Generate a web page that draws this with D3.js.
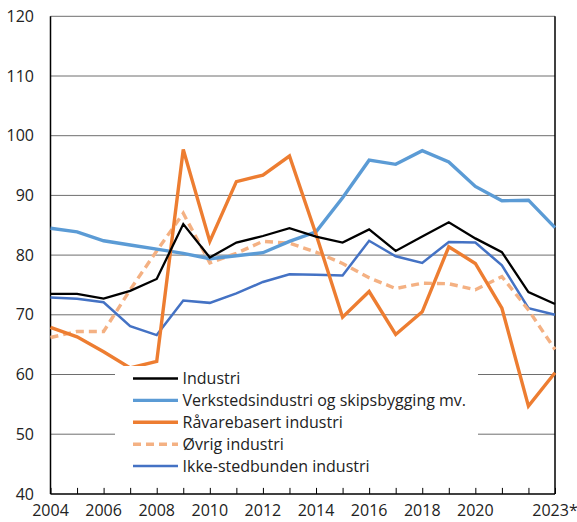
<!DOCTYPE html>
<html lang="no">
<head>
<meta charset="UTF-8">
<title>Industri</title>
<script src="https://d3js.org/d3.v7.min.js"></script>
<style>
  body { margin: 0; background: #fff; }
  svg { display: block; font-family: "Open Sans", sans-serif; }
</style>
</head>
<body>
<script>
// years and series values
const years = d3.range(2004, 2024);
const industri   = [73.5, 73.5, 72.7, 74.0, 76.0, 85.2, 79.6, 82.1, 83.2, 84.5, 83.1, 82.1, 84.3, 80.7, 83.1, 85.5, 82.8, 80.5, 73.8, 71.8];
const verksted   = [84.5, 83.9, 82.4, 81.7, 81.0, 80.3, 79.4, 79.9, 80.4, 82.3, 83.9, 89.6, 95.9, 95.2, 97.5, 95.6, 91.5, 89.1, 89.2, 84.6];
const raavare    = [67.9, 66.3, 63.8, 61.1, 62.2, 97.7, 82.3, 92.3, 93.4, 96.6, 83.5, 69.6, 73.9, 66.7, 70.5, 81.4, 78.6, 71.1, 54.7, 60.3];
const ovrig      = [66.2, 67.2, 67.2, 74.2, 80.7, 87.0, 78.7, 80.3, 82.3, 82.0, 80.5, 78.6, 76.2, 74.4, 75.3, 75.2, 74.2, 76.4, 70.8, 64.2];
const ikke       = [72.9, 72.7, 72.1, 68.1, 66.6, 72.4, 72.0, 73.6, 75.5, 76.8, 76.7, 76.6, 82.4, 79.8, 78.7, 82.2, 82.1, 78.3, 71.1, 70.0];

const seriesNames = ["Industri", "Verkstedsindustri og skipsbygging mv.", "Råvarebasert industri", "Øvrig industri", "Ikke-stedbunden industri"];
const seriesValues = [industri, verksted, raavare, ovrig, ikke];
const seriesColors = ["#000000", "#5B9BD5", "#ED7D31", "#F4B183", "#4472C4"];
const seriesWidths = [2.3, 3.4, 3.4, 3.4, 2.5];
const seriesDash = [null, null, null, "8,5", null];

const yTicks = [40, 50, 60, 70, 80, 90, 100, 110, 120];
const xLabelYears = [2004, 2006, 2008, 2010, 2012, 2014, 2016, 2018, 2020, 2023];
const xLabels = ["2004", "2006", "2008", "2010", "2012", "2014", "2016", "2018", "2020", "2023*"];

const W = 577, H = 522;
const mLeft = 50.5, mRight = 555, mTop = 16.3, mBottom = 493.9;
const fontSize = 16;

const svg = d3.select("body").append("svg")
  .attr("width", W).attr("height", H);

const x = d3.scaleLinear().domain([2004, 2023]).range([mLeft, mRight]);
const y = d3.scaleLinear().domain([40, 120]).range([mBottom, mTop]);

// gridlines
svg.append("g").selectAll("line")
  .data(yTicks.filter(d => d > 40))
  .enter().append("line")
  .attr("x1", mLeft).attr("x2", mRight)
  .attr("y1", d => y(d)).attr("y2", d => y(d))
  .attr("stroke", "#6e6e6e").attr("stroke-width", 1);

// y labels
svg.append("g").selectAll("text")
  .data(yTicks)
  .enter().append("text")
  .attr("x", 34).attr("y", d => y(d))
  .attr("dy", "0.35em")
  .attr("text-anchor", "end")
  .attr("font-size", fontSize)
  .attr("fill", "#222")
  .text(d => d);

// x ticks (inward)
const xAxis = d3.axisTop(x).tickValues(years).tickSize(6).tickFormat("");
const gx = svg.append("g").attr("transform", `translate(0,${mBottom})`).call(xAxis);
gx.select(".domain").remove();
gx.selectAll("line").attr("stroke", "#000").attr("stroke-width", 1);

// x labels
svg.append("g").selectAll("text")
  .data(xLabelYears)
  .enter().append("text")
  .attr("x", d => x(d)).attr("y", 516)
  .attr("text-anchor", "middle")
  .attr("font-size", fontSize)
  .attr("fill", "#222")
  .text((d, i) => xLabels[i]);

// frame: left, right, bottom
svg.append("line").attr("x1", mLeft).attr("x2", mLeft).attr("y1", mTop).attr("y2", mBottom)
  .attr("stroke", "#000").attr("stroke-width", 1.5);
svg.append("line").attr("x1", mRight).attr("x2", mRight).attr("y1", mTop).attr("y2", mBottom)
  .attr("stroke", "#000").attr("stroke-width", 1.5);
svg.append("line").attr("x1", mLeft).attr("x2", mRight).attr("y1", mBottom).attr("y2", mBottom)
  .attr("stroke", "#000").attr("stroke-width", 1.5);

// lines
const line = d3.line().x((d, i) => x(years[i])).y(d => y(d));
const order = [4, 3, 1, 2, 0];
svg.append("g").selectAll("path")
  .data(order)
  .enter().append("path")
  .attr("d", k => line(seriesValues[k]))
  .attr("fill", "none")
  .attr("stroke", k => seriesColors[k])
  .attr("stroke-width", k => seriesWidths[k])
  .attr("stroke-dasharray", k => seriesDash[k])
  .attr("stroke-linejoin", "miter");

// legend
const lg = svg.append("g");
lg.append("rect").attr("x", 115).attr("y", 366).attr("width", 363).attr("height", 112).attr("fill", "#fff");
const rowY = i => 378.5 + i * 21.9;
lg.selectAll("line.sample")
  .data(seriesNames)
  .enter().append("line")
  .attr("class", "sample")
  .attr("x1", 133).attr("x2", 178)
  .attr("y1", (d, i) => rowY(i)).attr("y2", (d, i) => rowY(i))
  .attr("stroke", (d, i) => seriesColors[i])
  .attr("stroke-width", (d, i) => seriesWidths[i])
  .attr("stroke-dasharray", (d, i) => seriesDash[i]);
lg.selectAll("text")
  .data(seriesNames)
  .enter().append("text")
  .attr("x", 182.5).attr("y", (d, i) => rowY(i))
  .attr("dy", "0.35em")
  .attr("font-size", fontSize)
  .attr("fill", "#222")
  .text(d => d);
</script>
</body>
</html>
